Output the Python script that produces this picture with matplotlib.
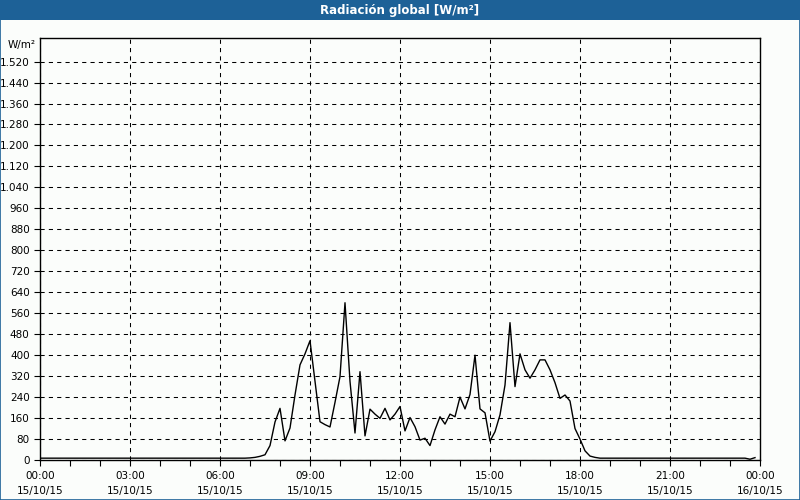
import matplotlib
matplotlib.use("Agg")
import matplotlib.pyplot as plt
import matplotlib.dates as mdates
import matplotlib.ticker as mticker
import pandas as pd
from matplotlib.patches import Rectangle

# 10-minute readings, 15/10/15 00:00 .. 23:50
radiation = [
    7, 7, 7, 7, 7, 7, 7, 7, 7, 7, 7, 7, 7, 7, 7, 7, 7, 7, 7, 7, 7, 7, 7, 7,
    7, 7, 7, 7, 7, 7, 7, 7, 7, 7, 7, 7, 7, 7, 7, 7, 7, 7,
    8, 10, 14, 20, 55, 145, 197, 73, 122, 248, 363, 405,
    455, 300, 146, 135, 126, 220, 318, 600, 300, 103, 337, 92,
    194, 175, 159, 197, 153, 175, 204, 111, 162, 127, 76, 83,
    55, 115, 165, 137, 175, 165, 240, 195, 250, 400, 195, 180,
    72, 108, 172, 286, 524, 280, 405, 344, 312, 344, 382, 382,
    344, 295, 235, 248, 225, 120, 80, 35, 15, 10,
    7, 7, 7, 7, 7, 7, 7, 7, 7, 7, 7, 7, 7, 7, 7, 7, 7, 7, 7, 7,
    7, 7, 7, 7, 7, 7, 7, 7, 7, 7,
    3, 9,
]
times = pd.date_range("2015-10-15 00:00", periods=len(radiation), freq="10min")

y_ticks = list(range(0, 1521, 80))
title = "Radiación global [W/m²]"
unit = "W/m²"

bar_blue = "#1d6197"
bg = "#fbfdfb"

fig = plt.figure(figsize=(8, 5), dpi=100, facecolor=bg)
# title bar + thin window border
fig.patches.append(Rectangle((0, 0.96), 1, 0.04, transform=fig.transFigure,
                             facecolor=bar_blue, edgecolor="none", zorder=0))
fig.patches.append(Rectangle((0.0006, 0.001), 0.9988, 0.998, transform=fig.transFigure,
                             facecolor="none", edgecolor=bar_blue, linewidth=1.2, zorder=5))
fig.text(0.5, 0.979, title, color="white", fontsize=8.5, fontweight="bold",
         ha="center", va="center")

ax = fig.add_axes([0.05, 0.08, 0.90, 0.844])
ax.set_facecolor(bg)
ax.plot(times, radiation, color="black", linewidth=1.0)

ax.set_xlim(pd.Timestamp("2015-10-15 00:00"), pd.Timestamp("2015-10-16 00:00"))
ax.set_ylim(0, 1610)

ax.xaxis.set_major_locator(mdates.HourLocator(byhour=range(0, 24, 3)))
ax.xaxis.set_minor_locator(mdates.HourLocator())
ax.xaxis.set_major_formatter(mdates.DateFormatter("%H:%M\n%d/%m/%y"))
ax.set_yticks(y_ticks)
ax.yaxis.set_major_formatter(mticker.FuncFormatter(lambda v, p: f"{int(v):,}".replace(",", ".")))

ax.grid(True, which="major", color="black", linestyle=(0, (4, 4)), linewidth=0.75)
ax.tick_params(axis="both", which="major", labelsize=7.5, length=4, width=0.8, direction="out")
ax.tick_params(axis="x", which="minor", length=4, width=0.8)
ax.tick_params(axis="x", pad=4)
for lbl in ax.get_xticklabels():
    lbl.set_linespacing(1.65)
for s in ax.spines.values():
    s.set_linewidth(1.0)

fig.text(0.045, 0.91, unit, fontsize=7.5, ha="right", va="center")

fig.savefig("out.png", dpi=100, facecolor=bg)
